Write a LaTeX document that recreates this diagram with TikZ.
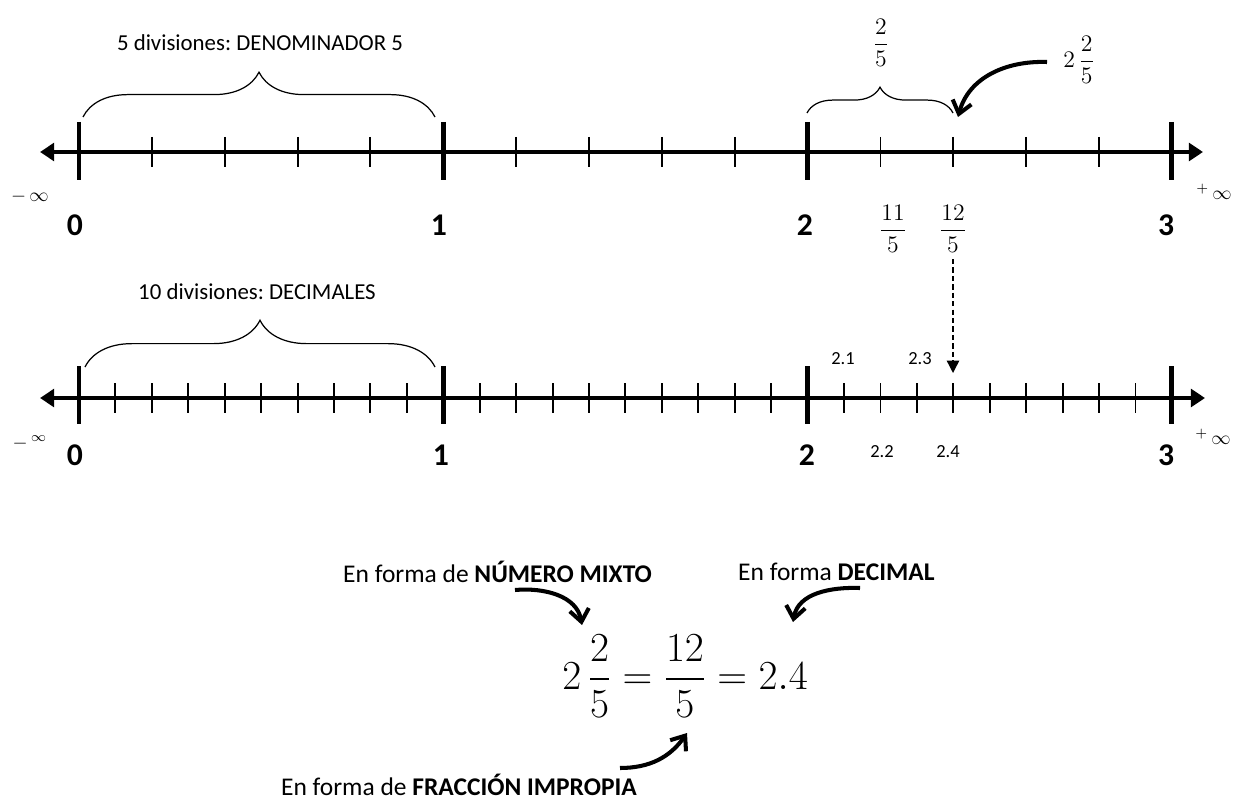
\RequirePackage{fix-cm}
\documentclass[tikz,border=0pt]{standalone}
\usepackage{amsmath}
\usepackage[no-math]{fontspec}
\setmainfont{Carlito}
\frenchspacing
\usetikzlibrary{arrows.meta,decorations.pathreplacing}

\tikzset{
  axis/.style={line width=2.3pt,{Triangle[length=8pt,width=10pt]}-{Triangle[length=8pt,width=10pt]}},
  majortick/.style={line width=2.8pt},
  minortick/.style={line width=1.1pt},
  bracket/.style={decorate,decoration={brace,amplitude=#1},line width=0.7pt},
  bendarrow/.style={line width=2.3pt,-{Straight Barb[length=7pt,width=11pt]}},
  dasharrow/.style={line width=0.8pt,dash pattern=on 3pt off 1.8pt,-{Triangle[length=7pt,width=7pt]}},
  numlabel/.style={font=\fontsize{18pt}{20pt}\selectfont\bfseries},
  inflabel/.style={font=\fontsize{11pt}{12pt}\selectfont},
  divlabel/.style={font=\fontsize{13pt}{15pt}\selectfont},
  declabel/.style={font=\fontsize{10.5pt}{12pt}\selectfont},
  fraclabel/.style={font=\fontsize{13.5pt}{15pt}\selectfont},
  formlabel/.style={font=\fontsize{14.5pt}{17pt}\selectfont}
}

\begin{document}
\begin{tikzpicture}[x=0.02cm,y=-0.02cm]
\useasboundingbox (0,0) rectangle (1243,804);

% line of fifths
\draw[axis] (40,152) -- (1203,152);
\foreach \k in {1,...,14}
  \draw[minortick] ({79+72.86*\k},137) -- ({79+72.86*\k},167);
\foreach \k in {0,...,3}
  \draw[majortick] ({79+364.3*\k},122) -- ({79+364.3*\k},180);
\node[numlabel] (a0) at (75,225) {0};
\node[numlabel] (a1) at (439,225) {1};
\node[numlabel] (a2) at (805,225) {2};
\node[numlabel] (a3) at (1166,225) {3};
\node[inflabel] (aminf) at (30,197) {$-\,\infty$};
\node[inflabel] (apinf) at (1214,192) {$^{+}\,\infty$};

\draw[bracket=25.5pt] (83,117) -- (435,117);
\node[divlabel] (div5) at (260,43) {5 divisiones: DENOMINADOR 5};
\draw[bracket=14.7pt] (807,113) -- (953,113);
\node[fraclabel] (fr25) at (881,43) {$\dfrac{2}{5}$};
\node[fraclabel] (fr115) at (893,229) {$\dfrac{11}{5}$};
\node[fraclabel] (fr125) at (953,229) {$\dfrac{12}{5}$};
\node[fraclabel] (mix) at (1079,60) {$2\,\dfrac{2}{5}$};
\coordinate (mixs) at (1047,62);
\coordinate (mixe) at (958,117);
\draw[bendarrow] (mixs) to[out=178,in=75] (mixe);

% line of tenths
\draw[axis] (40,398) -- (1205,398);
\foreach \k in {1,...,29}
  \draw[minortick] ({79+36.43*\k},383) -- ({79+36.43*\k},413);
\foreach \k in {0,...,3}
  \draw[majortick] ({79+364.3*\k},366) -- ({79+364.3*\k},424);
\node[numlabel] (b0) at (75,455) {0};
\node[numlabel] (b1) at (441,455) {1};
\node[numlabel] (b2) at (807,455) {2};
\node[numlabel] (b3) at (1166,455) {3};
\node[inflabel] (bminf) at (30,443) {$-\,^{\infty}$};
\node[inflabel] (bpinf) at (1213,437) {$^{+}\,\infty$};

\draw[bracket=26.6pt] (85,367) -- (435,367);
\node[divlabel] (div10) at (257,292) {10 divisiones: DECIMALES};
\node[declabel] (d21) at (843,359) {2.1};
\node[declabel] (d23) at (920,359) {2.3};
\node[declabel] (d22) at (882,452) {2.2};
\node[declabel] (d24) at (948,452) {2.4};
\coordinate (d24top) at (953,373);
\draw[dasharrow] (fr125.south) -- (d24top);

% the three forms
\node (eq) at (685,676) {\fontsize{23.5pt}{28pt}\selectfont $2\,\dfrac{2}{5}=\dfrac{12}{5}=2.4$};
\node[formlabel,anchor=west] (fmix) at (337,572) {En forma de \textbf{NÚMERO MIXTO}};
\node[formlabel,anchor=west] (fdec) at (732,572) {En forma \textbf{DECIMAL}};
\node[formlabel,anchor=east] (fimp) at (643,785) {En forma de \textbf{FRACCIÓN IMPROPIA}};
\coordinate (m1) at (515,590);
\coordinate (m2) at (582,625);
\draw[bendarrow] (m1) to[out=5,in=100] (m2);
\coordinate (c1) at (860,588);
\coordinate (c2) at (793,622);
\draw[bendarrow] (c1) to[out=178,in=80] (c2);
\coordinate (i1) at (620,768);
\coordinate (i2) at (687,733);
\draw[bendarrow] (i1) to[out=0,in=235] (i2);
\end{tikzpicture}
\end{document}
